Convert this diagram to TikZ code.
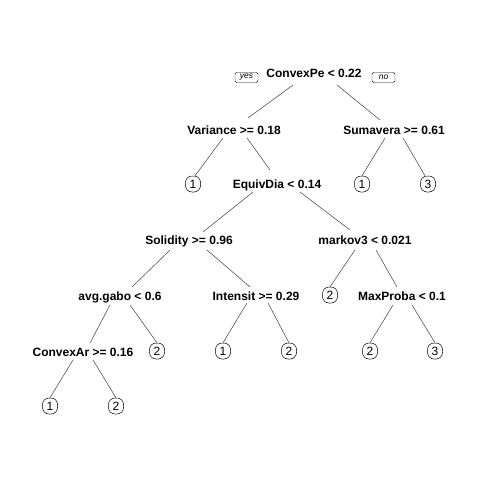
\documentclass[tikz,border=0pt]{standalone}
\usepackage{fontspec}
\setmainfont{Liberation Sans}
\begin{document}
\begin{tikzpicture}[x=1pt,y=-1pt,
  split/.style={font=\fontsize{12}{12}\selectfont\bfseries, inner sep=0pt, text height=9pt, text depth=0pt},
  leaf/.style={draw, line width=0.5pt, rounded corners=6.5pt, minimum width=15pt, minimum height=16pt, inner sep=0pt, font=\fontsize{12}{12}\selectfont},
  yn/.style={draw, line width=0.4pt, rounded corners=1.5pt, minimum width=23pt, minimum height=10pt, inner sep=0pt, font=\fontsize{8.5}{8.5}\selectfont\itshape},
  br/.style={line width=0.5pt, draw=black!75}]
\useasboundingbox (0,0) rectangle (480,480);
\fill[white] (0,0) rectangle (480,480);
% split nodes
\node[split] (cp) at (314,73) {ConvexPe < 0.22};
\node[split] (va) at (234,130) {Variance >= 0.18};
\node[split] (su) at (394,130) {Sumavera >= 0.61};
\node[split] (ed) at (277,184) {EquivDia < 0.14};
\node[split] (so) at (189,240) {Solidity >= 0.96};
\node[split] (mk) at (365,240) {markov3 < 0.021};
\node[split] (ag) at (120,296) {avg.gabo < 0.6};
\node[split] (in) at (256,296) {Intensit >= 0.29};
\node[split] (mp) at (402,296) {MaxProba < 0.1};
\node[split] (ca) at (83,352) {ConvexAr >= 0.16};
% yes/no
\node[yn] (yes) at (246.5,77.5) {yes};
\node[yn] (no) at (383.5,77.5) {no};
% leaves
\node[leaf] (l1a) at (193,184) {1};
\node[leaf] (l1b) at (362,184) {1};
\node[leaf] (l3a) at (428,184) {3};
\node[leaf] (l2c) at (330,295) {2};
\node[leaf] (l2a) at (157,351) {2};
\node[leaf] (l1c) at (223,351) {1};
\node[leaf] (l2b) at (289,351) {2};
\node[leaf] (l2d) at (370,351) {2};
\node[leaf] (l3b) at (435,351) {3};
\node[leaf] (l1d) at (50,406) {1};
\node[leaf] (l2e) at (116,406) {2};
% branches
\draw[br] ([shift={(-21,12)}]cp.center) -- ([shift={(14,-12)}]va.center);
\draw[br] ([shift={(23,12)}]cp.center) -- ([shift={(-14,-10)}]su.center);
\draw[br] ([shift={(-11,8)}]va.center) -- ([xshift=2pt]l1a.north);
\draw[br] ([shift={(13,8)}]va.center) -- ([shift={(-7,-14)}]ed.center);
\draw[br] ([shift={(-9,8)}]su.center) -- (l1b.north);
\draw[br] ([shift={(9,8)}]su.center) -- ([xshift=-3pt]l3a.north);
\draw[br] ([shift={(-24,8)}]ed.center) -- ([shift={(14,-8)}]so.center);
\draw[br] ([shift={(23,8)}]ed.center) -- ([shift={(-15,-10)}]mk.center);
\draw[br] ([shift={(-19,10)}]so.center) -- ([shift={(12,-9)}]ag.center);
\draw[br] ([shift={(18,10)}]so.center) -- ([shift={(-6,-9)}]in.center);
\draw[br] ([shift={(-10,9)}]ag.center) -- ([shift={(7,-9)}]ca.center);
\draw[br] ([shift={(10,9)}]ag.center) -- (l2a.north);
\draw[br] ([shift={(-9,7)}]in.center) -- (l1c.north);
\draw[br] ([shift={(12,7)}]in.center) -- (l2b.north);
\draw[br] ([shift={(-10,10)}]mk.center) -- (l2c.north);
\draw[br] ([shift={(11,10)}]mk.center) -- ([shift={(-5,-9)}]mp.center);
\draw[br] ([shift={(-9,9)}]mp.center) -- (l2d.north);
\draw[br] ([shift={(10,9)}]mp.center) -- (l3b.north);
\draw[br] ([shift={(-10,8)}]ca.center) -- (l1d.north);
\draw[br] ([shift={(10,8)}]ca.center) -- (l2e.north);
\end{tikzpicture}
\end{document}
